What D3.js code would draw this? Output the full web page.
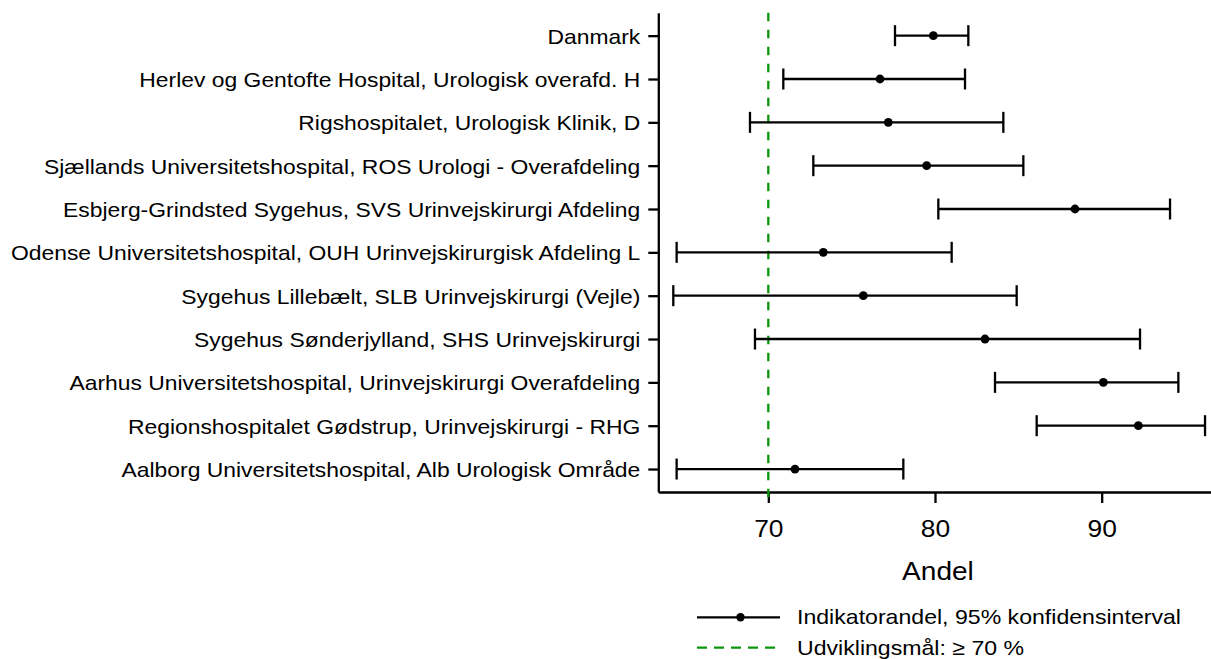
<!DOCTYPE html>
<html>
<head>
<meta charset="utf-8">
<script src="https://cdnjs.cloudflare.com/ajax/libs/d3/7.8.5/d3.min.js"></script>
<style>
  body { margin: 0; background: #fff; }
  svg { display: block; font-family: "Liberation Sans", Arial, sans-serif; }
</style>
</head>
<body>
<svg id="chart" width="1211" height="659"></svg>
<script>
// units, top to bottom
const units = [
  "Danmark",
  "Herlev og Gentofte Hospital, Urologisk overafd. H",
  "Rigshospitalet, Urologisk Klinik, D",
  "Sjællands Universitetshospital, ROS Urologi - Overafdeling",
  "Esbjerg-Grindsted Sygehus, SVS Urinvejskirurgi Afdeling",
  "Odense Universitetshospital, OUH Urinvejskirurgisk Afdeling L",
  "Sygehus Lillebælt, SLB Urinvejskirurgi (Vejle)",
  "Sygehus Sønderjylland, SHS Urinvejskirurgi",
  "Aarhus Universitetshospital, Urinvejskirurgi Overafdeling",
  "Regionshospitalet Gødstrup, Urinvejskirurgi - RHG",
  "Aalborg Universitetshospital, Alb Urologisk Område"
]
const andel = [79.9, 76.7, 77.2, 79.5, 88.4, 73.3, 75.7, 83.0, 90.1, 92.2, 71.6]
const lower = [77.6, 70.9, 68.9, 72.7, 80.2, 64.5, 64.3, 69.2, 83.6, 86.1, 64.5]
const upper = [82.0, 81.8, 84.1, 85.3, 94.1, 81.0, 84.9, 92.3, 94.6, 96.2, 78.1]
const xTicks = [70, 80, 90]
const target = 70
const legendLabels = ["Indikatorandel, 95% konfidensinterval", "Udviklingsmål: ≥ 70 %"]

const rows = units.map((u, i) => ({ unit: u, p: andel[i], lo: lower[i], hi: upper[i] }))

const svg = d3.select('#chart')
const green = '#0a960a'
const lw = 2.3
const stretch = 1.1 // text in the picture is a bit wider than tall

const x = d3.scaleLinear().domain([63.4, 96.6]).range([658.3, 1211.7])
const y = d3.scalePoint().domain(units).range([12.7, 492]).padding(0.53)

// y axis
const gy = svg.append('g')
  .attr('transform', `translate(${x(63.4)},0)`)
  .call(d3.axisLeft(y).tickSizeInner(10).tickSizeOuter(0).tickPadding(8))
gy.selectAll('text').attr('font-size', 20.8).attr('fill', '#000').attr('dy', '0.36em')

// x axis
const gx = svg.append('g')
  .attr('transform', `translate(0,492)`)
  .call(d3.axisBottom(x).tickValues(xTicks).tickSizeInner(11).tickSizeOuter(0).tickPadding(17))
gx.selectAll('text').attr('font-size', 24).attr('fill', '#000')

svg.selectAll('.domain, .tick line').attr('stroke', '#000').attr('stroke-width', lw)
svg.selectAll('g').attr('font-family', null)

svg.append('text')
  .attr('x', (x.range()[0] + x.range()[1]) / 2 + 3)
  .attr('y', 580)
  .attr('text-anchor', 'middle')
  .attr('font-size', 25.5)
  .text('Andel')

// target line
svg.append('line')
  .attr('x1', x(target)).attr('x2', x(target))
  .attr('y1', 12.7).attr('y2', 498)
  .attr('stroke', green).attr('stroke-width', lw)
  .attr('stroke-dasharray', '8.5,8.5')

// error bars
const bars = svg.append('g').selectAll('g').data(rows).join('g')
  .attr('transform', d => `translate(0,${y(d.unit)})`)
bars.append('line')
  .attr('x1', d => x(d.lo)).attr('x2', d => x(d.hi))
  .attr('stroke', '#000').attr('stroke-width', lw)
bars.append('line')
  .attr('x1', d => x(d.lo)).attr('x2', d => x(d.lo))
  .attr('y1', -10.5).attr('y2', 10.5)
  .attr('stroke', '#000').attr('stroke-width', lw)
bars.append('line')
  .attr('x1', d => x(d.hi)).attr('x2', d => x(d.hi))
  .attr('y1', -10.5).attr('y2', 10.5)
  .attr('stroke', '#000').attr('stroke-width', lw)
bars.append('circle')
  .attr('cx', d => x(d.p)).attr('r', 4.4).attr('fill', '#000')

// legend
const lg = svg.append('g').attr('transform', 'translate(697,617.3)')
lg.append('line').attr('x1', 0).attr('x2', 83)
  .attr('stroke', '#000').attr('stroke-width', lw)
lg.append('circle').attr('cx', 43.5).attr('r', 4.2).attr('fill', '#000')
lg.append('line').attr('x1', 0).attr('x2', 80).attr('y1', 30.4).attr('y2', 30.4)
  .attr('stroke', green).attr('stroke-width', lw).attr('stroke-dasharray', '10,7')
lg.selectAll('text.leg').data(legendLabels).join('text')
  .attr('class', 'leg')
  .attr('x', 100)
  .attr('y', (d, i) => 7 + i * 30.4)
  .attr('font-size', 21)
  .text(d => d)

// widen all text slightly to match the reference proportions
svg.selectAll('text').each(function () {
  const w = this.getComputedTextLength()
  d3.select(this).attr('textLength', w * stretch).attr('lengthAdjust', 'spacingAndGlyphs')
})
</script>
</body>
</html>
